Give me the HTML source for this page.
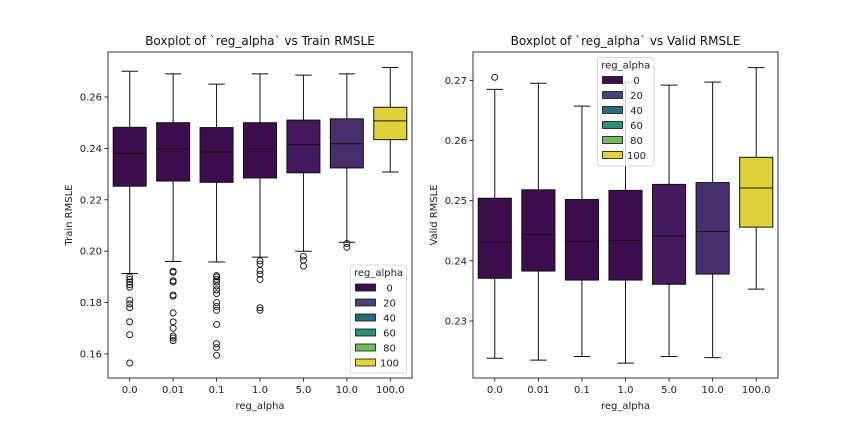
<!DOCTYPE html>
<html><head><meta charset="utf-8"><style>
html,body{margin:0;padding:0;background:#fff}
svg{display:block;font-family:"DejaVu Sans","Liberation Sans",sans-serif}
</style></head><body>
<svg id="chart" width="864" height="432" viewBox="0 0 864 432" xmlns="http://www.w3.org/2000/svg"></svg>
<script>
const categories = ["0.0","0.01","0.1","1.0","5.0","10.0","100.0"];
const boxColors = ["#3d0d4e","#3d0d4e","#3d0d4e","#3d0d4e","#44195e","#48306f","#e1d23c"];
const trainHi = [0.270,0.269,0.265,0.269,0.2685,0.269,0.2715];
const trainQ3 = [0.2482,0.2500,0.2481,0.2500,0.2510,0.2515,0.2560];
const trainMed = [0.2381,0.2398,0.2386,0.2398,0.2414,0.2418,0.2507];
const trainQ1 = [0.2253,0.2273,0.2268,0.2285,0.2305,0.2324,0.2434];
const trainLo = [0.1913,0.1960,0.1958,0.1977,0.2000,0.2035,0.2308];
const trainOut = [
 [0.190,0.189,0.188,0.187,0.186,0.181,0.1795,0.178,0.1725,0.1675,0.1565],
 [0.1922,0.1918,0.1885,0.188,0.183,0.1825,0.176,0.1725,0.170,0.167,0.1662,0.1652],
 [0.1905,0.190,0.189,0.188,0.1865,0.185,0.1835,0.180,0.1785,0.177,0.1715,0.164,0.1625,0.1595],
 [0.1962,0.195,0.1925,0.191,0.189,0.178,0.177],
 [0.198,0.1965,0.1942],
 [0.203,0.2015],
 []
];
const validHi = [0.2685,0.2695,0.2657,0.2697,0.2692,0.2697,0.2721];
const validQ3 = [0.2504,0.2518,0.2502,0.2517,0.2527,0.2530,0.2572];
const validMed = [0.2431,0.2444,0.2432,0.2434,0.2441,0.2449,0.2521];
const validQ1 = [0.2371,0.2383,0.2368,0.2368,0.2361,0.2378,0.2456];
const validLo = [0.2238,0.2235,0.2241,0.2230,0.2241,0.2239,0.2353];
const validOut = [[0.2705],[],[],[],[],[],[]];
const trainTicks = [0.16,0.18,0.20,0.22,0.24,0.26];
const validTicks = [0.23,0.24,0.25,0.26,0.27];
const legendLabels = ["0","20","40","60","80","100"];
const legendColors = ["#3d0d4e","#454577","#2c6b7a","#2a9079","#72bb5a","#e1d23c"];

const NS="http://www.w3.org/2000/svg";
const svg=document.getElementById('chart');
function el(tag,attrs,parent,text){const e=document.createElementNS(NS,tag);for(const k in attrs)e.setAttribute(k,attrs[k]);if(text!==undefined)e.textContent=text;(parent||svg).appendChild(e);return e;}

function panel(cfg){
  const g=el('g',{});
  
  
  const {x0,x1,y0,y1}=cfg;
  const yScale=v=>cfg.refY+(cfg.refV-v)*cfg.ppu;
  const bw=(x1-x0)/categories.length;
  const xc=i=>x0+bw*(i+0.5);
  cfg.ticks.forEach(t=>{
    const y=yScale(t);
    const tl=el('line',{x1:x0-3.5,x2:x0,y1:y,y2:y,stroke:'#000','stroke-width':0.8},g);
    
    
    const tx=el('text',{x:x0-6,y:y+3.5,'text-anchor':'end','font-size':10,fill:'#222'},g,t.toFixed(2));
    
    
  });
  categories.forEach((c,i)=>{
    const x=xc(i);
    const tl=el('line',{x1:x,x2:x,y1:y1,y2:y1+3.5,stroke:'#000','stroke-width':0.8},g);
    
    
    const tx=el('text',{x:x,y:y1+15,'text-anchor':'middle','font-size':10,fill:'#222'},g,c);
    
    
    const half=bw*0.38;
    const bg=el('g',{},g);
    
    
    const yh=yScale(cfg.hi[i]),yq3=yScale(cfg.q3[i]),ym=yScale(cfg.med[i]),yq1=yScale(cfg.q1[i]),yl=yScale(cfg.lo[i]);
    el('line',{x1:x,x2:x,y1:yh,y2:yq3,stroke:'#111','stroke-width':1},bg);
    el('line',{x1:x,x2:x,y1:yq1,y2:yl,stroke:'#111','stroke-width':1},bg);
    el('line',{x1:x-half/2,x2:x+half/2,y1:yh,y2:yh,stroke:'#111','stroke-width':1},bg);
    el('line',{x1:x-half/2,x2:x+half/2,y1:yl,y2:yl,stroke:'#111','stroke-width':1},bg);
    el('rect',{x:x-half,y:yq3,width:2*half,height:yq1-yq3,fill:boxColors[i],stroke:'#111','stroke-width':1},bg);
    el('line',{x1:x-half,x2:x+half,y1:ym,y2:ym,stroke:'#111','stroke-width':1},bg);
    cfg.out[i].forEach(v=>{
      const o=el('circle',{cx:x,cy:yScale(v),r:3,fill:'none',stroke:'#111','stroke-width':0.9},bg);
      
      
    });
  });
  const fr=el('rect',{x:x0,y:y0,width:x1-x0,height:y1-y0,fill:'none',stroke:'#000','stroke-width':0.8},g);
  
  
  const ti=el('text',{x:(x0+x1)/2,y:y0-7,'text-anchor':'middle','font-size':12,fill:'#111'},g,cfg.title);
  
  
  const xl=el('text',{x:(x0+x1)/2,y:y1+31,'text-anchor':'middle','font-size':10,fill:'#222'},g,'reg_alpha');
  
  
  const yl=el('text',{x:0,y:0,'text-anchor':'middle','font-size':10,fill:'#222',transform:`translate(${cfg.ylx},${(y0+y1)/2}) rotate(-90)`},g,cfg.ylabel);
  
  
  const L=cfg.leg;
  const lg=el('g',{},g);
  
  
  el('rect',{x:L.x,y:L.y,width:L.w,height:L.h,rx:2,fill:'#fff','fill-opacity':0.8,stroke:'#ccc','stroke-width':0.8},lg);
  el('text',{x:L.x+L.w/2,y:L.y+11,'text-anchor':'middle','font-size':10,fill:'#222'},lg,'reg_alpha');
  legendLabels.forEach((lab,k)=>{
    const yy=L.y+23+k*15;
    const le=el('g',{},lg);
    
    
    el('rect',{x:L.x+5,y:yy-4,width:20,height:7,fill:legendColors[k],stroke:'#111','stroke-width':0.8},le);
    el('text',{x:L.x+L.textOff,y:yy+3.5,'text-anchor':'middle','font-size':10,fill:'#222'},le,lab);
  });
}
panel({name:'train-panel',x0:108,x1:412,y0:52,y1:378,refY:97,refV:0.26,ppu:2570,ticks:trainTicks,
  hi:trainHi,q3:trainQ3,med:trainMed,q1:trainQ1,lo:trainLo,out:trainOut,
  title:'Boxplot of `reg_alpha` vs Train RMSLE',ylabel:'Train RMSLE',ylx:72,
  leg:{x:350.5,y:265,w:56,h:108,textOff:39}});
panel({name:'valid-panel',x0:473,x1:778,y0:52,y1:378,refY:80.3,refV:0.27,ppu:6017,ticks:validTicks,
  hi:validHi,q3:validQ3,med:validMed,q1:validQ1,lo:validLo,out:validOut,
  title:'Boxplot of `reg_alpha` vs Valid RMSLE',ylabel:'Valid RMSLE',ylx:437,
  leg:{x:597.5,y:57.5,w:56.5,h:108.5,textOff:39}});
</script>
</body></html>
